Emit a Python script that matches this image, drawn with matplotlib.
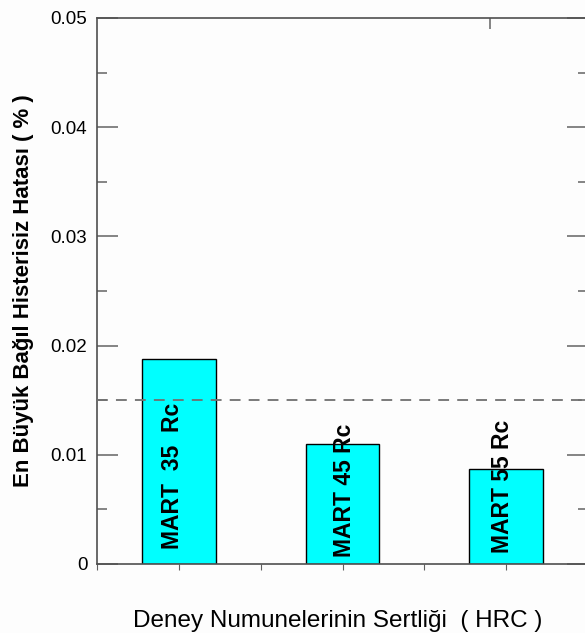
import matplotlib
matplotlib.use("Agg")
import matplotlib.pyplot as plt
from matplotlib.ticker import MultipleLocator, FixedLocator

plt.rcParams['font.family'] = ['Liberation Sans', 'DejaVu Sans']

categories = ["MART  35  Rc", "MART 45 Rc", "MART 55 Rc"]
values = [0.0188, 0.0110, 0.0087]
reference_line = 0.015
yticks = [0, 0.01, 0.02, 0.03, 0.04, 0.05]
ytick_labels = ["0", "0.01", "0.02", "0.03", "0.04", "0.05"]
xpos = [1, 2, 3]

W, H = 585, 633
fig = plt.figure(figsize=(W / 100, H / 100), dpi=100)
fig.patch.set_facecolor('#fdfdfd')
ax = fig.add_axes([97 / W, (H - 564) / H, (588 - 97) / W, (564 - 18) / H])
ax.set_facecolor('#fdfdfd')

ax.bar(xpos, values, width=0.45, color='#00ffff', edgecolor='black', linewidth=1.0, zorder=2)
ax.axhline(reference_line, color='#707070', linestyle=(0, (6, 4.5)), linewidth=1.3, zorder=3)

label_offsets = [(-0.04, 0.0014), (0.01, 0.0006), (-0.02, 0.0010)]
for x, lab, (dx, yb) in zip(xpos, categories, label_offsets):
    ax.text(x + dx, yb, lab, rotation=90, ha='center', va='bottom',
            fontsize=16.5, fontweight='bold', color='black', zorder=4)

ax.set_xlim(0.5, 3.5)
ax.set_ylim(0, 0.05)
ax.yaxis.set_major_locator(FixedLocator(yticks))
ax.set_yticklabels(ytick_labels)
ax.yaxis.set_minor_locator(MultipleLocator(0.005))
ax.xaxis.set_major_locator(MultipleLocator(0.5))
ax.tick_params(axis='x', which='both', direction='out', length=4, color='#606060', labelbottom=False)
ax.tick_params(axis='y', which='major', direction='in', length=15, width=1.2, color='#707070',
               right=True, labelsize=13.5, pad=7)
ax.tick_params(axis='y', which='minor', direction='in', length=7, width=1.2, color='#707070', right=True)

sec = ax.secondary_xaxis('top')
sec.set_xticks([2.9])
sec.tick_params(direction='in', length=8, width=1.2, color='#707070', labeltop=False)
sec.spines['top'].set_visible(False)

for s in ax.spines.values():
    s.set_color('#505050')
    s.set_linewidth(1.2)

ax.set_ylabel("En Büyük Bağıl Histerisiz Hatası ( % )", fontsize=16, fontweight='bold', labelpad=12)
ax.set_xlabel("Deney Numunelerinin Sertliği  ( HRC )", fontsize=17.5, labelpad=29)
ax.xaxis.label.set_x(0.49)

fig.savefig("out.png", dpi=100, facecolor=fig.get_facecolor())
